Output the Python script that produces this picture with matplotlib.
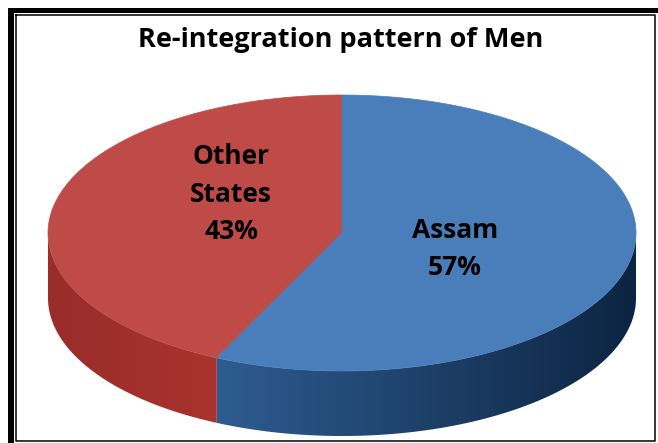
import numpy as np
import matplotlib.pyplot as plt
from matplotlib.patches import Polygon
from matplotlib.colors import LinearSegmentedColormap

# data
labels = ["Other\nStates", "Assam"]
values = [43, 57]
top_colors = ["#BE4B48", "#4A7EBB"]
side_light = ["#A8332F", "#2E5C90"]
side_dark = ["#9A2C29", "#0C2442"]
label_pos = [(231, 194), (455, 249)]

plt.rcParams['font.family'] = ['Open Sans', 'DejaVu Sans']

# ellipse geometry in pixel units
cx, cy = 342, 233
a, b = 294, 138
depth = 65


def pt(t):
    r = np.radians(t)
    return cx + a * np.cos(r), cy - b * np.sin(r)


fig = plt.figure(figsize=(6.58, 4.43), dpi=100)
ax = fig.add_axes([0, 0, 1, 1])
ax.set_xlim(0, 658)
ax.set_ylim(443, 0)
ax.axis('off')

# slice angles, starting at 12 o'clock going counter-clockwise
total = sum(values)
starts = []
t = 90.0
for v in values:
    starts.append((t, t + 360.0 * v / total))
    t += 360.0 * v / total

# side walls (front half only), gradient clipped to wall shape
for i, (t0, t1) in enumerate(starts):
    s0 = max(t0, 180)
    s1 = min(t1, 360)
    if s1 <= s0:
        continue
    ts = np.linspace(s0, s1, 200)
    top = [pt(tt) for tt in ts]
    bot = [(x, y + depth) for x, y in top[::-1]]
    wall = Polygon(top + bot, closed=True, facecolor='none', edgecolor='none')
    ax.add_patch(wall)
    xs = [p[0] for p in top]
    if i == 0:
        cmap = LinearSegmentedColormap.from_list("w", [side_dark[i], side_light[i]])
    else:
        cmap = LinearSegmentedColormap.from_list("w", [side_light[i], side_dark[i]])
    grad = np.linspace(0, 1, 256).reshape(1, -1)
    im = ax.imshow(grad, cmap=cmap, aspect='auto', interpolation='bilinear',
                   extent=[min(xs), max(xs), 443, 0])
    im.set_clip_path(wall)

# top faces
for i, (t0, t1) in enumerate(starts):
    ts = np.linspace(t0, t1, 200)
    pts = [(cx, cy)] + [pt(tt) for tt in ts]
    ax.add_patch(Polygon(pts, closed=True, facecolor=top_colors[i],
                         edgecolor=top_colors[i], lw=0.5))

ax.set_xlim(0, 658)
ax.set_ylim(443, 0)

# labels
for i, v in enumerate(values):
    ax.text(label_pos[i][0], label_pos[i][1], labels[i] + "\n" + str(v) + "%",
            ha='center', va='center', fontsize=19, fontweight='bold',
            linespacing=1.5, color='black')

ax.text(341, 47, "Re-integration pattern of Men", ha='center', va='baseline',
        fontsize=19.5, fontweight='bold', color='black')

# frame
ax.plot([11, 11], [8, 443], color='black', lw=4.3, solid_capstyle='butt')
ax.plot([8, 658], [10, 10], color='black', lw=3.6, solid_capstyle='butt')
ax.plot([16, 655, 655, 16, 16], [15, 15, 441, 441, 15], color='black', lw=1.1)

fig.savefig("out.png", dpi=100)
